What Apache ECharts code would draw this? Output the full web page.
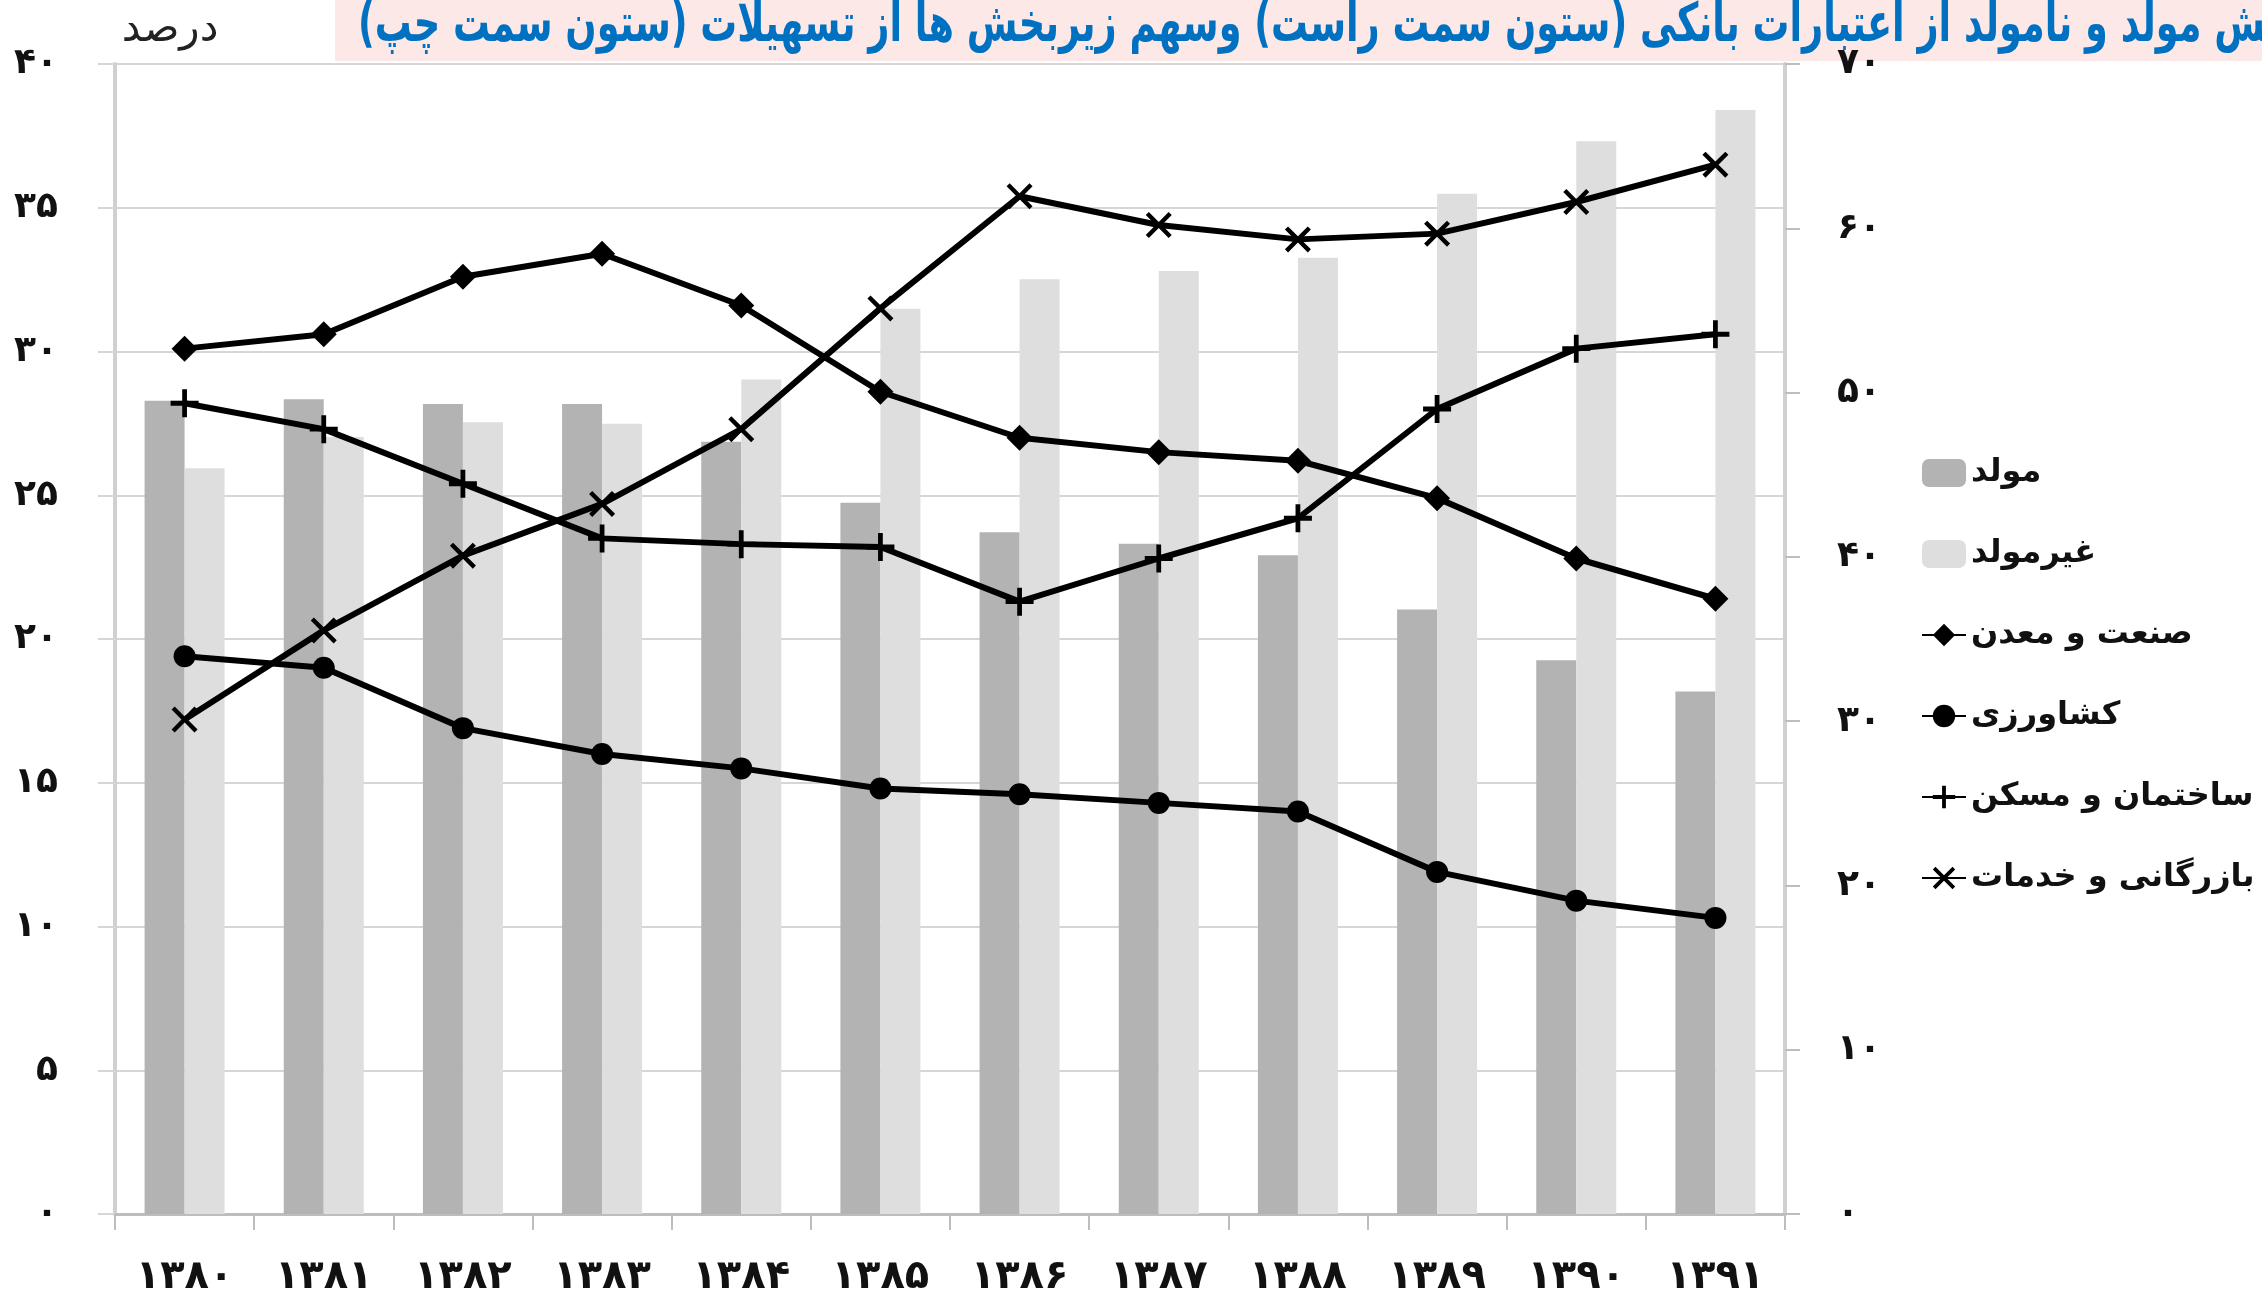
<!DOCTYPE html>
<html>
<head>
<meta charset="utf-8">
<style>
  html, body { margin: 0; padding: 0; background: #fff; }
  #chart { width: 2262px; height: 1307px; }
</style>
<script src="https://cdn.jsdelivr.net/npm/echarts@6/dist/echarts.min.js"></script>
</head>
<body>
<div id="chart"></div>
<script>
// سال‌ها
const years = ['۱۳۸۰', '۱۳۸۱', '۱۳۸۲', '۱۳۸۳', '۱۳۸۴', '۱۳۸۵', '۱۳۸۶', '۱۳۸۷', '۱۳۸۸', '۱۳۸۹', '۱۳۹۰', '۱۳۹۱']
// ستون سمت راست (اعتبارات بانکی)
const productive = [49.5, 49.6, 49.3, 49.3, 47.0, 43.3, 41.5, 40.8, 40.1, 36.8, 33.7, 31.8]
const nonProductive = [45.4, 47.3, 48.2, 48.1, 50.8, 55.1, 56.9, 57.4, 58.2, 62.1, 65.3, 67.2]
// ستون سمت چپ (تسهیلات زیربخش ها)
const industry = [30.1, 30.6, 32.6, 33.4, 31.6, 28.6, 27.0, 26.5, 26.2, 24.9, 22.8, 21.4]
const agriculture = [19.4, 19.0, 16.9, 16.0, 15.5, 14.8, 14.6, 14.3, 14.0, 11.9, 10.9, 10.3]
const construction = [28.2, 27.3, 25.4, 23.5, 23.3, 23.2, 21.3, 22.8, 24.2, 28.0, 30.1, 30.6]
const trade = [17.2, 20.3, 22.9, 24.7, 27.3, 31.5, 35.4, 34.4, 33.9, 34.1, 35.2, 36.5]
// برچسب محورها
const leftTickLabels = ['۰', '۵', '۱۰', '۱۵', '۲۰', '۲۵', '۳۰', '۳۵', '۴۰']
const rightTickLabels = ['۰', '۱۰', '۲۰', '۳۰', '۴۰', '۵۰', '۶۰', '۷۰']

const titleText = 'سهم بخش مولد و نامولد از اعتبارات بانکی (ستون سمت راست) وسهم زیربخش ها از تسهیلات (ستون سمت چپ)'
const font = '"DejaVu Sans", sans-serif'

const plusPath = 'path://M8.3,0 L11.7,0 L11.7,8.3 L20,8.3 L20,11.7 L11.7,11.7 L11.7,20 L8.3,20 L8.3,11.7 L0,11.7 L0,8.3 L8.3,8.3 Z'
const crossPath = 'path://M2.4,0 L10,7.6 L17.6,0 L20,2.4 L12.4,10 L20,17.6 L17.6,20 L10,12.4 L2.4,20 L0,17.6 L7.6,10 L0,2.4 Z'

function lineSeries (name, data, symbol, size) {
  return {
    name: name,
    type: 'line',
    yAxisIndex: 0,
    data: data,
    symbol: symbol,
    symbolSize: size,
    z: 5,
    lineStyle: { color: '#000', width: 6 },
    itemStyle: { color: '#000' }
  }
}

const chart = echarts.init(document.getElementById('chart'))
const option = {
  backgroundColor: '#fff',
  animation: false,
  textStyle: { fontFamily: font },
  graphic: [
    { type: 'rect', z: -10, shape: { x: 335, y: 0, width: 1927, height: 61 }, style: { fill: '#FDE8E8' } },
    {
      type: 'text', x: 358, y: 27, scaleX: 0.765, scaleY: 1.12,
      style: { text: '\u200F' + titleText + '\u200F', fill: '#0070C0', fontSize: 48, fontWeight: 'bold', fontFamily: font, align: 'left', verticalAlign: 'middle' }
    },
    {
      type: 'text', x: 170, y: 30,
      style: { text: 'درصد', fill: '#222', fontSize: 42, fontFamily: font, align: 'center', verticalAlign: 'middle' }
    }
  ],
  legend: {
    orient: 'vertical',
    left: 1916,
    top: 452,
    itemGap: 49,
    itemWidth: 44,
    itemHeight: 28,
    textStyle: { fontSize: 32, fontWeight: 'bold', color: '#111', fontFamily: font },
    data: ['مولد', 'غیرمولد', 'صنعت و معدن', 'کشاورزی', 'ساختمان و مسکن', 'بازرگانی و خدمات']
  },
  grid: { left: 115, right: 477, top: 64, bottom: 93 },
  xAxis: {
    type: 'category',
    data: years,
    boundaryGap: true,
    axisLine: { lineStyle: { color: '#BDBDBD', width: 3 } },
    axisTick: { show: true, length: 16, lineStyle: { color: '#BDBDBD', width: 2 } },
    axisLabel: { color: '#111', fontSize: 40, fontWeight: 'bold', margin: 44, fontFamily: font }
  },
  yAxis: [
    {
      type: 'value', min: 0, max: 40, interval: 5, position: 'left',
      axisLine: { show: true, lineStyle: { color: '#D0D0D0', width: 4 } },
      axisTick: { show: true, length: 17, lineStyle: { color: '#D6D6D6', width: 2 } },
      splitLine: { show: true, lineStyle: { color: '#D6D6D6', width: 2 } },
      axisLabel: {
        color: '#111', fontSize: 36, fontWeight: 'bold', margin: 57, fontFamily: font,
        formatter: function (v) { return leftTickLabels[Math.round(v / 5)] }
      }
    },
    {
      type: 'value', min: 0, max: 70, interval: 10, position: 'right',
      axisLine: { show: true, lineStyle: { color: '#D0D0D0', width: 4 } },
      axisTick: { show: true, length: 15, lineStyle: { color: '#BDBDBD', width: 2 } },
      splitLine: { show: false },
      axisLabel: {
        color: '#111', fontSize: 36, fontWeight: 'bold', margin: 52, fontFamily: font,
        formatter: function (v) { return rightTickLabels[Math.round(v / 10)] }
      }
    }
  ],
  series: [
    { name: 'مولد', type: 'bar', yAxisIndex: 1, data: productive, barWidth: 40, barGap: '0%', itemStyle: { color: '#B3B3B3' } },
    { name: 'غیرمولد', type: 'bar', yAxisIndex: 1, data: nonProductive, barWidth: 40, barGap: '0%', itemStyle: { color: '#DEDEDE' } },
    lineSeries('صنعت و معدن', industry, 'diamond', 26),
    lineSeries('کشاورزی', agriculture, 'circle', 22),
    lineSeries('ساختمان و مسکن', construction, plusPath, 28),
    lineSeries('بازرگانی و خدمات', trade, crossPath, 26)
  ]
}
chart.setOption(option)
window.addEventListener('resize', function () {
  chart.resize()
})
</script>
</body>
</html>
